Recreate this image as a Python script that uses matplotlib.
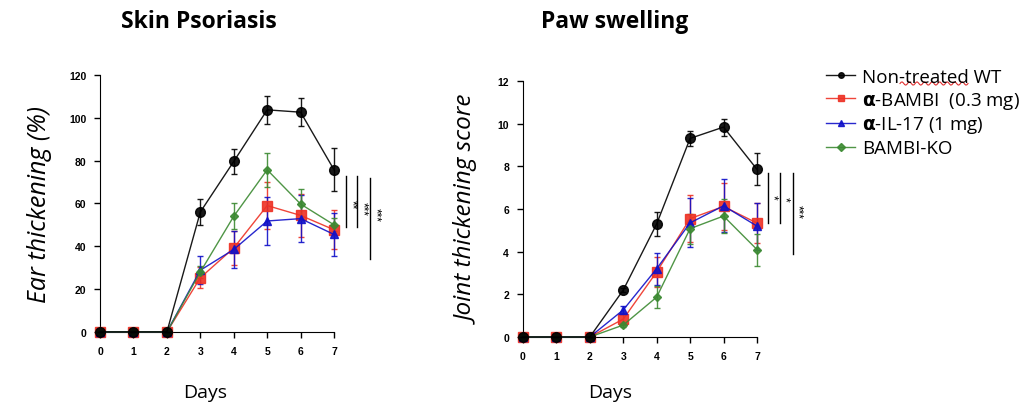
import matplotlib
matplotlib.use("Agg")
import matplotlib.pyplot as plt
import numpy as np
from matplotlib.lines import Line2D

# Data
days = [0, 1, 2, 3, 4, 5, 6, 7]
groups = ["Non-treated WT", "α-BAMBI  (0.3 mg)", "α-IL-17 (1 mg)", "BAMBI-KO"]

ear_wt = [0, 0, 0, 56, 79.6, 103.7, 102.6, 75.7]
ear_wt_err = [0, 0, 0, 6, 6, 6.5, 6.5, 10]
ear_bambi = [0, 0, 0, 25.3, 39.2, 59, 54.4, 47.7]
ear_bambi_err = [0, 0, 0, 5, 8, 11, 10, 9]
ear_il17 = [0, 0, 0, 28.8, 38.5, 51.8, 52.9, 45.5]
ear_il17_err = [0, 0, 0, 6.5, 8.5, 11, 11, 10]
ear_ko = [0, 0, 0, 28, 54, 75.7, 59.7, 50]
ear_ko_err = [0, 0, 0, 3, 6, 8, 7, 3]

paw_wt = [0, 0, 0, 2.2, 5.3, 9.31, 9.84, 7.86]
paw_wt_err = [0, 0, 0, 0.1, 0.55, 0.35, 0.4, 0.75]
paw_bambi = [0, 0, 0, 0.84, 3.05, 5.55, 6.12, 5.34]
paw_bambi_err = [0, 0, 0, 0.3, 0.7, 1.1, 1.1, 0.95]
paw_il17 = [0, 0, 0, 1.27, 3.2, 5.35, 6.15, 5.2]
paw_il17_err = [0, 0, 0, 0.2, 0.75, 1.15, 1.25, 1.1]
paw_ko = [0, 0, 0, 0.56, 1.87, 5.08, 5.67, 4.1]
paw_ko_err = [0, 0, 0, 0.1, 0.5, 0.7, 0.8, 0.75]

# significance brackets: (x, y_top, y_bottom, star y, label)
ear_sig = [(7.37, 72.7, 49, 60, "**"), (7.7, 72.7, 49, 58, "***"),
           (8.09, 72.0, 34.2, 55, "***")]
paw_sig = [(7.33, 7.7, 5.36, 6.6, "*"), (7.69, 7.7, 5.36, 6.5, "*"),
           (8.08, 7.7, 3.9, 5.9, "***")]

colors = ["#000000", "#ee3124", "#1010c8", "#3c8a32"]
markers = ["o", "s", "^", "D"]
msizes = [7, 6.5, 5.5, 4]

plt.rcParams["font.family"] = ["Liberation Sans", "DejaVu Sans"]
sans = ["Open Sans", "DejaVu Sans"]

fig = plt.figure(figsize=(10.25, 4.1), dpi=100)
ax1 = fig.add_axes([0.0976, 0.188, 0.2283, 0.6268])
ax2 = fig.add_axes([0.5102, 0.1756, 0.2283, 0.6244])


def draw_panel(ax, series, errs, ylim, yticks, sig):
    handles = []
    for i, (vals, err) in enumerate(zip(series, errs)):
        c = colors[i]
        eb = ax.errorbar(
            days, vals, yerr=err, color=c, marker=markers[i], markersize=msizes[i],
            linewidth=1.0, elinewidth=1.0, capsize=2.5, capthick=1.0,
            alpha=0.9, clip_on=False, zorder=3 + (i == 0),
        )
        handles.append(eb.lines[0])
    ax.set_xlim(0, 7)
    ax.set_ylim(*ylim)
    ax.set_xticks(days)
    ax.set_yticks(yticks)
    for lab in ax.get_xticklabels() + ax.get_yticklabels():
        lab.set_fontweight("bold")
        lab.set_fontsize(7.5)
    ax.tick_params(direction="out", length=4, width=1, pad=6)
    ax.spines["top"].set_visible(False)
    ax.spines["right"].set_visible(False)
    for x, y0, y1, ys, label in sig:
        ax.plot([x, x], [y1, y0], color="black", linewidth=1.0, clip_on=False)
        ax.text(x + 0.14, ys, label, rotation=-90,
                ha="center", va="center", fontsize=8.5, clip_on=False)
    return handles


handles = draw_panel(ax1, [ear_wt, ear_bambi, ear_il17, ear_ko],
                     [ear_wt_err, ear_bambi_err, ear_il17_err, ear_ko_err],
                     (0, 120), [0, 20, 40, 60, 80, 100, 120], ear_sig)
draw_panel(ax2, [paw_wt, paw_bambi, paw_il17, paw_ko],
           [paw_wt_err, paw_bambi_err, paw_il17_err, paw_ko_err],
           (0, 12), [0, 2, 4, 6, 8, 10, 12], paw_sig)

ax1.set_ylabel("Ear thickening (%)", fontsize=18, style="italic",
               family=sans, labelpad=12)
ax2.set_ylabel("Joint thickening score", fontsize=17.5, style="italic",
               family=sans, labelpad=12)

fig.text(199 / 1025, 1 - 22 / 410, "Skin Psoriasis", ha="center", va="center",
         fontsize=16.5, fontweight="bold", family=sans)
fig.text(615 / 1025, 1 - 22 / 410, "Paw swelling", ha="center", va="center",
         fontsize=16.5, fontweight="bold", family=sans)
fig.text(205 / 1025, 1 - 393 / 410, "Days", ha="center", va="center",
         fontsize=14, family=sans)
fig.text(610 / 1025, 1 - 393 / 410, "Days", ha="center", va="center",
         fontsize=14, family=sans)

labels = ["Non-treated WT", r"$\mathbf{α}$-BAMBI  (0.3 mg)",
          r"$\mathbf{α}$-IL-17 (1 mg)", "BAMBI-KO"]
leg = fig.legend(handles, labels, loc="upper left", bbox_to_anchor=(0.799, 0.85),
                 frameon=False, handlelength=1.5, handletextpad=0.4,
                 labelspacing=0.2, borderaxespad=0,
                 prop={"family": sans, "size": 13.5})
for h in leg.legend_handles:
    h.set_markersize(4)

# red wavy spell-check underline under "treated WT"
wx = np.linspace(900 / 1025, 968 / 1025, 60)
wy = 1 - 84.5 / 410 + 0.004 * np.sin(np.linspace(0, 2 * np.pi * 9, 60))
fig.add_artist(Line2D(wx, wy, color="#e03030", linewidth=0.8))

fig.savefig("out.png", dpi=100)
